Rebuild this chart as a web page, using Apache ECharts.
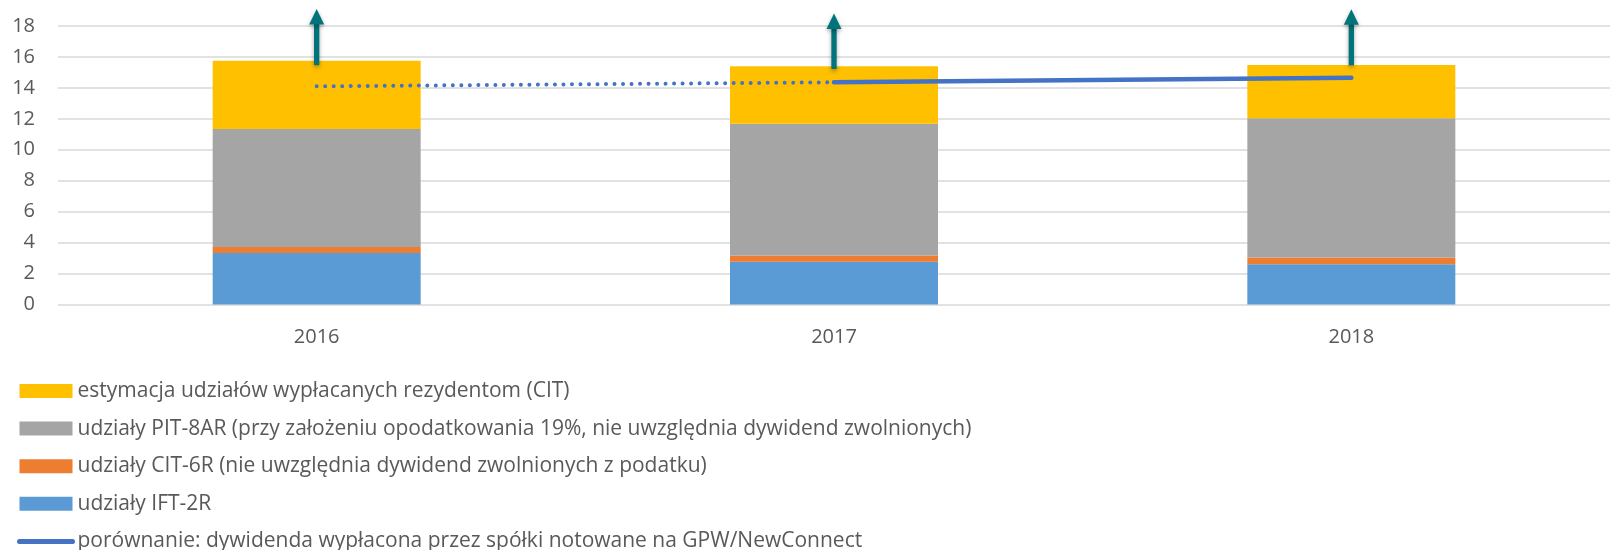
<!DOCTYPE html>
<html>
<head>
<meta charset="utf-8">
<script src="https://cdn.jsdelivr.net/npm/echarts@6/dist/echarts.min.js"></script>
<style>
  html, body { margin: 0; padding: 0; background: #fff; }
  #chart { width: 1610px; height: 550px; }
</style>
</head>
<body>
<div id="chart"></div>
<script>
var myChart = echarts.init(document.getElementById('chart'));

// dane
var years = ['2016', '2017', '2018'];
var ift2r = [3.33, 2.77, 2.6];        // udziały IFT-2R
var cit6r = [0.39, 0.39, 0.43];       // udziały CIT-6R
var pit8ar = [7.62, 8.53, 9.01];      // udziały PIT-8AR
var citRez = [4.42, 3.71, 3.44];      // estymacja CIT
var gpw = [14.1, 14.36, 14.66];       // porównanie GPW/NewConnect
var arrowBase = [15.47, 15.22, 15.46];
var arrowTip = [19.1, 18.8, 19.08];
var yTicks = { min: 0, max: 18, interval: 2 };

var names = [
    'estymacja udziałów wypłacanych rezydentom (CIT)',
    'udziały PIT-8AR (przy założeniu opodatkowania 19%, nie uwzględnia dywidend zwolnionych)',
    'udziały CIT-6R (nie uwzględnia dywidend zwolnionych z podatku)',
    'udziały IFT-2R',
    'porównanie: dywidenda wypłacona przez spółki notowane na GPW/NewConnect'
];

var font = '"Open Sans", sans-serif';

// linia kropkowana 2016-2017, ciągła 2017-2018
var gpwDotted = [gpw[0], gpw[1], null];
var gpwSolid = [null, gpw[1], gpw[2]];

var arrowData = [];
for (let i = 0; i < years.length; i++) {
    arrowData.push([i, arrowBase[i], arrowTip[i]]);
}

var option = {
    animation: false,
    grid: { left: 58, right: -8, top: 26, bottom: 245.5, containLabel: false },
    legend: {
        data: [
            { name: names[0], icon: 'rect' },
            { name: names[1], icon: 'rect' },
            { name: names[2], icon: 'rect' },
            { name: names[3], icon: 'rect' },
            {
                name: names[4],
                itemStyle: { color: 'rgba(0,0,0,0)', borderColor: 'rgba(0,0,0,0)', borderWidth: 0 },
                lineStyle: { color: '#4472C4', width: 5, cap: 'round' }
            }
        ],
        orient: 'vertical',
        left: 17,
        top: 380,
        height: 180,
        padding: 0,
        itemWidth: 53,
        itemHeight: 14,
        itemGap: 15.6,
        selectedMode: false,
        textStyle: { fontFamily: font, fontSize: 21, color: '#595959', lineHeight: 22 }
    },
    xAxis: {
        type: 'category',
        data: years,
        axisLine: { show: false },
        axisTick: { show: false },
        axisLabel: { fontFamily: font, fontSize: 20, color: '#595959', margin: 23 }
    },
    yAxis: {
        type: 'value',
        min: yTicks.min,
        max: yTicks.max,
        interval: yTicks.interval,
        axisLine: { show: false },
        axisTick: { show: false },
        axisLabel: { fontFamily: font, fontSize: 20, color: '#595959', margin: 23 },
        splitLine: { lineStyle: { color: '#d9d9d9', width: 1.5 } }
    },
    series: [
        { name: names[3], type: 'bar', stack: 'a', barWidth: 208, data: ift2r, itemStyle: { color: '#5B9BD5' } },
        { name: names[2], type: 'bar', stack: 'a', data: cit6r, itemStyle: { color: '#ED7D31' } },
        { name: names[1], type: 'bar', stack: 'a', data: pit8ar, itemStyle: { color: '#A5A5A5' } },
        { name: names[0], type: 'bar', stack: 'a', data: citRez, itemStyle: { color: '#FFC000' } },
        {
            name: 'gpw-kropki', type: 'line', data: gpwDotted, symbol: 'none', z: 5,
            lineStyle: { color: '#4472C4', width: 4, type: [0.01, 8.5], cap: 'round' }
        },
        {
            name: names[4], type: 'line', data: gpwSolid, symbol: 'none', z: 5,
            lineStyle: { color: '#4472C4', width: 4.5, cap: 'round' },
            itemStyle: { color: '#4472C4' }
        },
        {
            name: 'strzalki', type: 'custom', data: arrowData, clip: false, z: 6,
            renderItem: function (params, api) {
                var base = api.coord([api.value(0), api.value(1)]);
                var tip = api.coord([api.value(0), api.value(2)]);
                var x = base[0];
                var headH = 15.5;
                var headW = 15;
                var shaftW = 5.3;
                return {
                    type: 'group',
                    children: [
                        {
                            type: 'rect',
                            shape: { x: x - shaftW / 2, y: tip[1] + headH - 1, width: shaftW, height: base[1] - tip[1] - headH + 1 },
                            style: { fill: '#00747A', shadowBlur: 4, shadowColor: 'rgba(0,0,0,0.35)', shadowOffsetY: 2 }
                        },
                        {
                            type: 'polygon',
                            shape: { points: [[x, tip[1]], [x + headW / 2, tip[1] + headH], [x - headW / 2, tip[1] + headH]] },
                            style: { fill: '#00747A', shadowBlur: 4, shadowColor: 'rgba(0,0,0,0.35)', shadowOffsetY: 2 }
                        }
                    ]
                };
            }
        }
    ]
};

myChart.setOption(option);

window.addEventListener('resize', () => {
    myChart.resize();
});
</script>
</body>
</html>
